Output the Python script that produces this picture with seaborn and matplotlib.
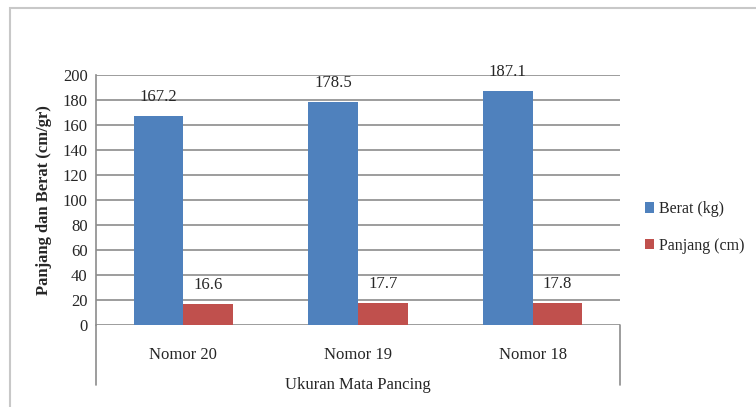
import matplotlib.pyplot as plt
import seaborn as sns
import pandas as pd

# data
categories = ['Nomor 20', 'Nomor 19', 'Nomor 18']
berat = [167.2, 178.5, 187.1]
panjang = [16.6, 17.7, 17.8]
series = ['Berat (kg)', 'Panjang (cm)']
colors = ['#4F81BD', '#C0504D']

sns.set_style('white')
plt.rcParams['font.family'] = ['Liberation Serif', 'DejaVu Serif']

df = pd.DataFrame({
    'kategori': categories * 2,
    'nilai': berat + panjang,
    'seri': [series[0]] * 3 + [series[1]] * 3,
})

fig = plt.figure(figsize=(7.56, 4.07), dpi=100)
ax = fig.add_axes([0.127, 0.2015, 0.693, 0.6143])

sns.barplot(data=df, x='kategori', y='nilai', hue='seri', palette=colors,
            width=0.57, ax=ax, saturation=1, errorbar=None, edgecolor='none')

for cont in ax.containers:
    ax.bar_label(cont, fmt='%.1f', padding=8, fontsize=12)

ax.set_ylim(0, 200)
ax.set_yticks(range(0, 201, 20))
ax.set_xlim(-0.5, 2.5)
ax.tick_params(axis='y', labelsize=12, length=4, color='#888888', pad=2)
ax.tick_params(axis='x', labelsize=12, length=0, pad=16)
ax.yaxis.grid(True, color='#8c8c8c', linewidth=1.2)
ax.set_axisbelow(True)
for s in ['top', 'right', 'bottom']:
    ax.spines[s].set_visible(False)
ax.spines['left'].set_color('#8c8c8c')
ax.spines['left'].set_linewidth(1.2)

# category axis frame below the plot
ax.plot([0, 0], [0, -0.24], transform=ax.transAxes, color='#8c8c8c', lw=1.2, clip_on=False)
ax.plot([1, 1], [0, -0.24], transform=ax.transAxes, color='#8c8c8c', lw=1.2, clip_on=False)

ax.set_xlabel('Ukuran Mata Pancing', fontsize=12, labelpad=10)
ax.set_ylabel('Panjang dan Berat (cm/gr)', fontsize=12, fontweight='bold', labelpad=8)

handles, labels = ax.get_legend_handles_labels()
ax.legend(handles, labels, loc='center left', bbox_to_anchor=(1.035, 0.39),
          frameon=False, fontsize=11.5, handlelength=0.6, handleheight=0.6,
          handletextpad=0.3, labelspacing=1.3, borderaxespad=0)

# chart border
fig.patches.append(plt.Rectangle((0.013, -0.05), 1.1, 1.03, transform=fig.transFigure,
                                 fill=False, edgecolor='#c8c8c8', lw=1.5))

fig.savefig('out.png', dpi=100)
